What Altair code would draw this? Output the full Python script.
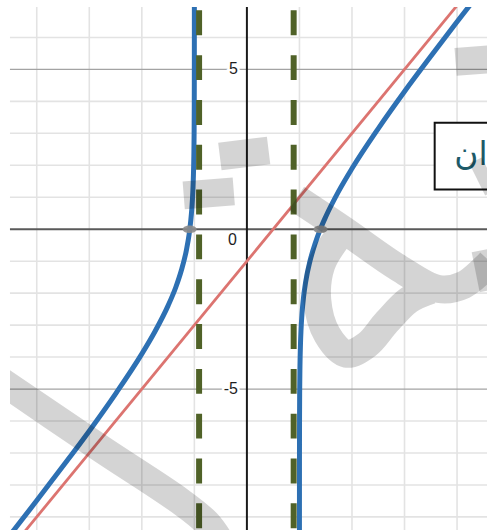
import altair as alt
import pandas as pd

# Visible window of the coordinate plane
X_DOMAIN = [-4.51, 4.57]
Y_DOMAIN = [-9.47, 6.95]

# Grid
minor_x = [-4, -3, -2, -1, 1, 2, 3, 4]
minor_y = [-9, -8, -7, -6, -4, -3, -2, -1, 1, 2, 3, 4, 6]
major_y = [-5, 5]

# y = 2x - 1 + ln((x-1)/(x+1)), left branch (x < -1)
left_x = [-4.6, -4.0, -3.5, -3.0, -2.5, -2.0, -1.75, -1.5, -1.35, -1.25, -1.15, -1.1,
          -1.07, -1.05, -1.03, -1.02, -1.01, -1.005, -1.002, -1.001, -1.0005, -1.0002,
          -1.0001, -1.00005]
left_y = [-9.76, -8.49, -7.41, -6.31, -5.15, -3.90, -3.20, -2.39, -1.80, -1.30, -0.64, -0.16,
          0.25, 0.61, 1.15, 1.58, 2.28, 2.98, 3.90, 4.60, 5.29, 6.21,
          6.90, 7.60]
# right branch (x > 1)
right_x = [1.00005, 1.0001, 1.0002, 1.0005, 1.001, 1.002, 1.005, 1.01, 1.02, 1.03, 1.05,
           1.08, 1.12, 1.2, 1.3, 1.4, 1.5, 1.75, 2.0, 2.5, 3.0, 3.5, 4.0, 4.6]
right_y = [-9.60, -8.90, -8.21, -7.29, -6.60, -5.90, -4.98, -4.28, -3.58, -3.15, -2.61,
           -2.10, -1.63, -1.00, -0.44, 0.01, 0.39, 1.20, 1.90, 3.15, 4.31, 5.41, 6.49, 7.76]

# Oblique asymptote y = 2x - 1
oblique_x = [-4.6, 4.6]
oblique_y = [-10.2, 8.2]

# Dashed vertical guides
guide_x = [-0.91, 0.89]

# x-intercepts
zero_x = [-1.09, 1.40]
zero_y = [0, 0]

# Axis numbers
tick_vals = [5, -5]
tick_text = ["5", "-5"]

# Label box
box_x = [3.574]
box_x2 = [4.9]
box_y = [3.334]
box_y2 = [1.246]
box_text = ["ان"]
box_text_x = [4.58]
box_text_y = [1.994]

# Calligraphic watermark strokes
wm_a_x = [-4.869, -2.787, -1.272, -0.761, -0.477]
wm_a_y = [-4.534, -6.856, -8.507, -9.193, -9.847]
wm_b_x = [0.943, 1.852, 2.893, 3.650, 4.123, 4.635]
wm_b_y = [0.966, -0.031, -1.215, -1.870, -1.745, -1.028]
wm_loop_x = [1.719, 1.416, 1.340, 1.530, 1.889, 2.287, 2.666, 3.082, 3.499]
wm_loop_y = [-0.280, -1.122, -2.213, -3.303, -3.895, -3.615, -2.898, -2.213, -1.901]
wm_d1_x = [-1.203, -0.250]
wm_d1_y = [1.060, 1.184]
wm_d2_x = [-0.515, 0.413]
wm_d2_y = [2.275, 2.462]
wm_d3_x = [3.972, 4.694]
wm_d3_y = [5.235, 5.329]
wm_e1_x = [4.351, 4.654]
wm_e1_y = [2.150, 1.153]
wm_e2_x = [4.483, 4.635]
wm_e2_y = [-0.654, -1.901]

xs = alt.Scale(domain=X_DOMAIN, nice=False, zero=False)
ys = alt.Scale(domain=Y_DOMAIN, nice=False, zero=False)


def ex(field="x"):
    return alt.X(f"{field}:Q", scale=xs, axis=None)


def ey(field="y"):
    return alt.Y(f"{field}:Q", scale=ys, axis=None)


grid_v = alt.Chart(pd.DataFrame({"x": minor_x})).mark_rule(
    color="#e3e3e3", strokeWidth=1.6).encode(x=ex())
grid_h = alt.Chart(pd.DataFrame({"y": minor_y})).mark_rule(
    color="#e3e3e3", strokeWidth=1.6).encode(y=ey())
grid_major = alt.Chart(pd.DataFrame({"y": major_y})).mark_rule(
    color="#a3a3a3", strokeWidth=1.3).encode(y=ey())
axis_x = alt.Chart(pd.DataFrame({"y": [0]})).mark_rule(
    color="#5a5a5a", strokeWidth=2).encode(y=ey())
axis_y = alt.Chart(pd.DataFrame({"x": [0]})).mark_rule(
    color="#1a1a1a", strokeWidth=2).encode(x=ex())

oblique = alt.Chart(pd.DataFrame({"x": oblique_x, "y": oblique_y})).mark_line(
    color="#dc7470", strokeWidth=2.8, clip=True).encode(x=ex(), y=ey())

curve_df = pd.concat([
    pd.DataFrame({"x": left_x, "y": left_y, "branch": "left"}),
    pd.DataFrame({"x": right_x, "y": right_y, "branch": "right"}),
])
curve = alt.Chart(curve_df).mark_line(
    color="#2d70b3", strokeWidth=5, interpolate="monotone", clip=True
).encode(x=ex(), y=ey(), detail="branch:N")

guides = alt.Chart(pd.DataFrame({"x": guide_x})).mark_rule(
    color="#506228", strokeWidth=6, strokeDash=[25, 20], strokeDashOffset=41.7
).encode(x=ex())

ellipse = "M-1,0A1,0.55,0,1,0,1,0A1,0.55,0,1,0,-1,0Z"
zeros = alt.Chart(pd.DataFrame({"x": zero_x, "y": zero_y})).mark_point(
    shape=ellipse, size=196, filled=True, color="#8c8c8c", opacity=0.9
).encode(x=ex(), y=ey())

tick_df = pd.DataFrame({"x": [0] * len(tick_vals), "y": tick_vals, "t": tick_text})
zero_df = pd.DataFrame({"x": [0], "y": [0], "t": ["0"]})
label_style = dict(font="Liberation Sans", fontSize=16, align="right", baseline="middle")
tick_halo = alt.Chart(tick_df).mark_text(
    dx=-9, color="white", stroke="white", strokeWidth=5, **label_style
).encode(x=ex(), y=ey(), text="t:N")
tick_lab = alt.Chart(tick_df).mark_text(dx=-9, color="#1e1e1e", **label_style).encode(
    x=ex(), y=ey(), text="t:N")
zero_halo = alt.Chart(zero_df).mark_text(
    dx=-10, dy=11, color="white", stroke="white", strokeWidth=5, **label_style
).encode(x=ex(), y=ey(), text="t:N")
zero_lab = alt.Chart(zero_df).mark_text(dx=-10, dy=11, color="#1e1e1e", **label_style).encode(
    x=ex(), y=ey(), text="t:N")

box = alt.Chart(pd.DataFrame({"x": box_x, "x2": box_x2, "y": box_y, "y2": box_y2})).mark_rect(
    fill="white", stroke="#111111", strokeWidth=2, clip=True
).encode(x=ex(), x2="x2:Q", y=ey(), y2="y2:Q")
box_label = alt.Chart(pd.DataFrame({"x": box_text_x, "y": box_text_y, "t": box_text})).mark_text(
    font="DejaVu Sans", fontSize=33, align="right", baseline="alphabetic",
    color="#1d5a68", clip=True
).encode(x=ex(), y=ey(), text="t:N")

# Main watermark strokes share one path (gaps between pieces) so overlaps stay even
pieces = [(wm_a_x, wm_a_y), (wm_b_x, wm_b_y), (wm_loop_x, wm_loop_y),
          (wm_d1_x, wm_d1_y), (wm_d2_x, wm_d2_y), (wm_d3_x, wm_d3_y)]
wx, wy = [], []
for px, py in pieces:
    if wx:
        wx.append(None)
        wy.append(None)
    wx.extend(px)
    wy.extend(py)
wm_df = pd.DataFrame({"x": wx, "y": wy, "i": list(range(len(wx)))})
watermark = alt.Chart(wm_df).mark_line(
    color="black", opacity=0.17, strokeWidth=28, interpolate="catmull-rom",
    strokeCap="butt", strokeJoin="round", clip=True,
    invalid="break-paths-filter-domains"
).encode(x=ex(), y=ey(), order="i:Q")

wm_e1 = alt.Chart(pd.DataFrame({"x": wm_e1_x, "y": wm_e1_y, "i": [0, 1]})).mark_line(
    color="black", opacity=0.17, strokeWidth=14, clip=True
).encode(x=ex(), y=ey(), order="i:Q")
wm_e2 = alt.Chart(pd.DataFrame({"x": wm_e2_x, "y": wm_e2_y, "i": [0, 1]})).mark_line(
    color="black", opacity=0.17, strokeWidth=22, clip=True
).encode(x=ex(), y=ey(), order="i:Q")

chart = alt.layer(
    grid_v, grid_h, grid_major, axis_x, axis_y,
    oblique, curve, guides, zeros,
    tick_halo, tick_lab, zero_halo, zero_lab,
    box, box_label,
    watermark, wm_e1, wm_e2,
).properties(
    width=479, height=527,
    padding={"left": 9, "top": 3, "right": 0, "bottom": 0},
    background="white",
).configure_view(stroke=None)

chart.save("out.html", embed_options={"renderer": "svg", "actions": False})
